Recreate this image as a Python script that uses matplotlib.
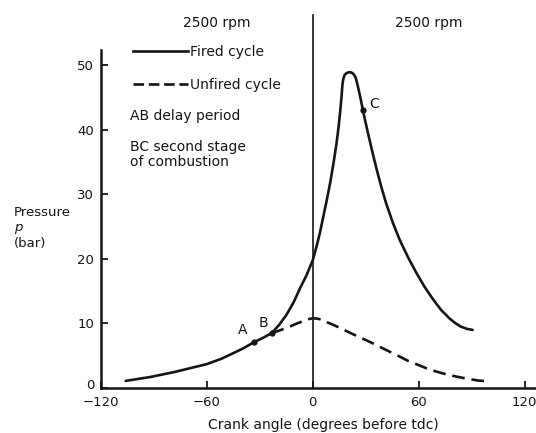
import numpy as np
import matplotlib
matplotlib.use("Agg")
import matplotlib.pyplot as plt
import matplotlib.transforms as mtransforms
from matplotlib.lines import Line2D

# fired cycle (crank angle, pressure in bar)
fired_x = [-106, -99, -92, -85, -78, -69, -60, -52, -45, -39, -33.3, -28, -23.3, -19, -15,
           -11, -7.3, -3.5, 0, 2, 4, 6, 8, 10, 12, 13.4, 14.6, 15.6, 16.3, 16.8, 17.3,
           18, 19, 20.5, 22, 23.3, 24.3, 25.2, 26, 27, 28.4, 29.8, 31.3, 33.5, 36, 38.8,
           41.6, 45.4, 49.2, 53.9, 58.6, 63.3, 68, 72.7, 77.4, 81, 84, 87.5, 90.6]
fired_p = [1.1, 1.4, 1.7, 2.1, 2.5, 3.1, 3.7, 4.5, 5.4, 6.2, 7.1, 7.8, 8.5, 9.8, 11.3,
           13.2, 15.4, 17.5, 19.8, 21.8, 24.0, 26.6, 29.2, 32, 35.3, 37.8, 40.4, 43, 45.2, 47, 47.9,
           48.5, 48.8, 48.95, 48.9, 48.6, 48.1, 47.2, 46.2, 45.0, 43.1, 41.3, 39.5, 36.9, 34.1, 31.2,
           28.6, 25.6, 23.0, 20.3, 17.9, 15.7, 13.8, 12.1, 10.8, 10.0, 9.5, 9.15, 9.0]

# unfired (motored) cycle, dashed part from B onwards
unfired_x = [-23.3, -18, -13, -9, -5, -2, 0, 2.5, 5, 8, 11.5, 15.5, 20, 25, 30.3, 35, 40,
             44.5, 49, 54, 59.5, 64, 68, 72.5, 77.4, 82.5, 88, 94, 100]
unfired_p = [8.5, 9.0, 9.5, 10.0, 10.4, 10.7, 10.8, 10.75, 10.6, 10.2, 9.8, 9.3, 8.7, 8.05,
             7.4, 6.8, 6.1, 5.5, 4.9, 4.2, 3.6, 3.1, 2.7, 2.35, 2.0, 1.7, 1.4, 1.15, 1.0]

# marked points
pt_names = ["A", "B", "C"]
pt_x = [-33.3, -23.3, 28.4]
pt_p = [7.1, 8.5, 43.1]

xticks = [-120, -60, 0, 60, 120]
yticks = [0, 10, 20, 30, 40, 50]
tdc = 0

ink = "#151515"
plt.rcParams["font.family"] = ["DejaVu Sans"]

fig = plt.figure(figsize=(5.36, 4.33), dpi=100)
ax = fig.add_axes([0.1884, 0.104, 0.81, 0.7806])

ax.plot(fired_x, fired_p, color=ink, lw=1.9, solid_capstyle="round", solid_joinstyle="round")
ax.plot(unfired_x, unfired_p, color=ink, lw=1.9, dashes=(4.8, 2.6))
ax.plot(pt_x, pt_p, "o", color=ink, ms=3.5)

# tdc line reaching above the frame
ax.plot([tdc, tdc], [0, 57.8], color=ink, lw=1.2, clip_on=False)

offs = {"A": (-6.2, 1.9), "B": (-4.4, 1.6), "C": (6.6, 0.9)}
for n, x, p in zip(pt_names, pt_x, pt_p):
    dx, dy = offs[n]
    ax.text(x + dx, p + dy, n, fontsize=10, color=ink, ha="center", va="center")

ax.set_xlim(-120, 126)
ax.set_ylim(0, 52.4)
ax.set_xticks(xticks)
ax.set_yticks(yticks)
for s in ["top", "right"]:
    ax.spines[s].set_visible(False)
for s in ["left", "bottom"]:
    ax.spines[s].set_linewidth(1.8)
    ax.spines[s].set_color(ink)
ax.tick_params(direction="in", length=5, width=1.3, colors=ink, labelsize=9.5)
ax.tick_params(axis="x", pad=6)
ax.tick_params(axis="y", pad=5)

# lift the "0" on the y axis a little, as in the original
fig.canvas.draw()
ylabs = ax.get_yticklabels()
ylabs[0].set_transform(ylabs[0].get_transform() +
                       mtransforms.ScaledTranslation(0, 4 / 100, fig.dpi_scale_trans))

ax.text(-54.2, 56.6, "2500 rpm", fontsize=10, color=ink, ha="center", va="center", clip_on=False)
ax.text(65.5, 56.6, "2500 rpm", fontsize=10, color=ink, ha="center", va="center", clip_on=False)

handles = [Line2D([], [], color=ink, lw=1.9),
           Line2D([], [], color=ink, lw=1.9, dashes=(4.0, 1.8))]
leg = ax.legend(handles, ["Fired cycle", "Unfired cycle"], loc="upper left",
                bbox_to_anchor=(0.0736, 1.015), frameon=False, fontsize=10,
                handlelength=3.95, handletextpad=0.15, labelspacing=1.35,
                borderpad=0, borderaxespad=0)
for t in leg.get_texts():
    t.set_color(ink)

ax.text(-103.4, 42.2, "AB delay period", fontsize=10, color=ink, ha="left", va="center")
ax.text(-103.4, 36.2, "BC second stage\nof combustion", fontsize=10, color=ink,
        ha="left", va="center", linespacing=1.1)

fig.text(14 / 536, 1 - 212 / 433, "Pressure", fontsize=9.5, color=ink, ha="left", va="center")
fig.text(14 / 536, 1 - 228 / 433, "p", fontsize=9.5, color=ink, ha="left", va="center", style="italic")
fig.text(14 / 536, 1 - 243 / 433, "(bar)", fontsize=9.5, color=ink, ha="left", va="center")
fig.text(323 / 536, 1 - 425 / 433, "Crank angle (degrees before tdc)", fontsize=10,
         color=ink, ha="center", va="center")

fig.savefig("out.png", dpi=100)
